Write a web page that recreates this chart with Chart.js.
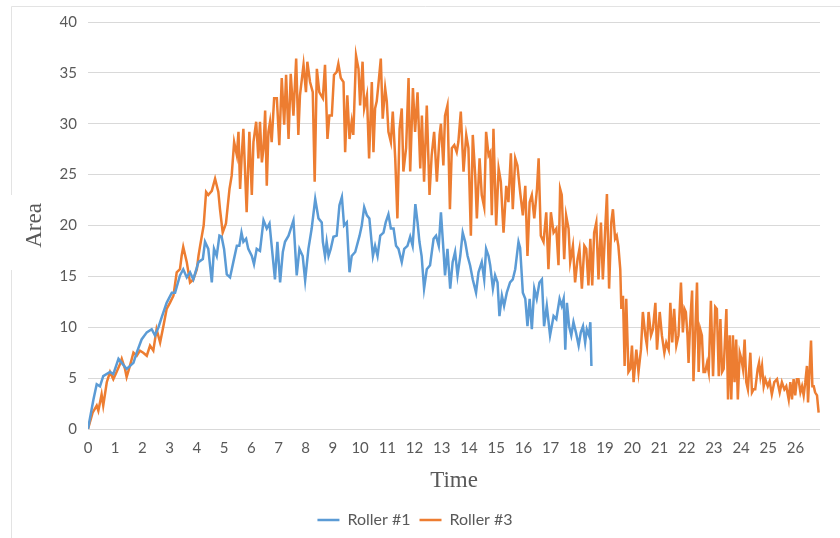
<!DOCTYPE html>
<html>
<head>
<meta charset="utf-8">
<script src="https://cdn.jsdelivr.net/npm/chart.js@4/dist/chart.umd.min.js"></script>
<style>
  html, body { margin: 0; padding: 0; background: #fff; }
  #wrap { width: 840px; height: 538px; position: relative; }
</style>
</head>
<body>
<div id="wrap"><canvas id="chart"></canvas></div>
<script>
// Roller #1 (blue) – time / area
const roller1Time = [
  0, 0.20, 0.32, 0.44, 0.56, 0.81, 0.93, 1.12, 1.24, 1.42, 1.67, 1.79, 1.97, 2.16, 2.34, 2.46, 2.59, 2.71, 2.89, 3.08,
  3.20, 3.38, 3.50, 3.63, 3.75, 3.87, 4.06, 4.22, 4.30, 4.42, 4.55, 4.63, 4.73, 4.83, 4.91, 5.00, 5.10, 5.22, 5.34, 5.47,
  5.56, 5.64, 5.71, 5.81, 5.89, 6.02, 6.10, 6.20, 6.32, 6.45, 6.57, 6.67, 6.75, 6.87, 6.96, 7.06, 7.16, 7.24, 7.37, 7.55,
  7.67, 7.77, 7.89, 7.98, 8.10, 8.22, 8.35, 8.47, 8.59, 8.63, 8.71, 8.77, 8.84, 8.92, 9.02, 9.14, 9.24, 9.33, 9.41, 9.51,
  9.61, 9.69, 9.82, 9.98, 10.06, 10.15, 10.25, 10.34, 10.47, 10.55, 10.64, 10.74, 10.86, 10.94, 11.04, 11.13, 11.23, 11.32, 11.41, 11.53,
  11.62, 11.74, 11.84, 11.93, 12.03, 12.11, 12.18, 12.26, 12.35, 12.45, 12.57, 12.70, 12.79, 12.89, 12.97, 13.06, 13.12, 13.21, 13.31, 13.40,
  13.49, 13.58, 13.68, 13.77, 13.86, 13.95, 14.04, 14.14, 14.26, 14.35, 14.47, 14.56, 14.63, 14.72, 14.78, 14.88, 14.96, 15.05, 15.12, 15.21,
  15.29, 15.39, 15.51, 15.61, 15.70, 15.82, 15.88, 15.98, 16.07, 16.15, 16.23, 16.31, 16.40, 16.49, 16.59, 16.68, 16.76, 16.86, 16.98, 17.11,
  17.21, 17.33, 17.41, 17.48, 17.54, 17.60, 17.68, 17.76, 17.84, 17.93, 18.03, 18.11, 18.19, 18.27, 18.33, 18.41, 18.46, 18.50
];
const roller1Area = [
  0, 2.9, 4.4, 4.2, 5.2, 5.6, 5.4, 6.9, 6.5, 5.9, 6.5, 7.5, 8.8, 9.5, 9.8, 9.2, 10.0, 11.0, 12.4, 13.4,
  13.4, 15.1, 15.7, 14.9, 15.4, 14.7, 16.4, 16.7, 18.4, 17.7, 14.4, 17.7, 17.0, 19.0, 18.9, 17.7, 15.2, 14.9, 16.4, 18.0,
  18.0, 19.3, 18.4, 18.7, 17.7, 17.0, 16.2, 17.7, 17.5, 20.5, 19.7, 20.2, 18.0, 14.7, 18.4, 14.4, 17.4, 18.4, 19.0, 20.5,
  15.1, 17.7, 17.0, 14.6, 17.7, 19.7, 22.6, 20.7, 20.3, 18.4, 17.0, 18.4, 17.0, 17.7, 18.9, 19.0, 22.0, 22.8, 20.0, 20.3,
  15.4, 17.0, 17.4, 19.0, 20.0, 21.8, 21.0, 20.7, 17.0, 18.0, 17.0, 19.0, 19.3, 20.3, 21.1, 19.7, 19.7, 18.0, 17.7, 16.4,
  17.7, 18.0, 18.9, 18.0, 22.1, 20.3, 18.4, 17.0, 13.8, 15.7, 16.1, 18.7, 19.0, 18.0, 21.3, 17.7, 15.1, 17.7, 13.8, 16.4,
  17.4, 15.1, 17.0, 19.3, 18.4, 17.0, 16.1, 14.7, 13.4, 15.4, 16.4, 14.7, 17.7, 17.0, 16.1, 13.8, 15.1, 14.4, 11.1, 13.1,
  12.1, 13.4, 14.4, 14.7, 15.7, 18.4, 17.8, 13.4, 12.8, 10.1, 12.8, 9.8, 13.8, 12.8, 14.4, 14.7, 10.1, 12.1, 9.2, 11.1,
  10.8, 12.8, 12.1, 12.8, 7.8, 12.4, 10.1, 9.2, 10.5, 9.5, 8.2, 9.5, 10.1, 8.5, 9.8, 9.2, 10.5, 6.2
];

// Roller #3 (orange)
const roller3Time = [
  0, 0.17, 0.32, 0.38, 0.50, 0.56, 0.69, 0.81, 0.93, 1.05, 1.18, 1.24, 1.36, 1.42, 1.54, 1.67, 1.79, 1.91, 2.03, 2.16,
  2.28, 2.40, 2.52, 2.65, 2.77, 2.89, 3.01, 3.14, 3.26, 3.38, 3.44, 3.50, 3.63, 3.75, 3.87, 4.00, 4.06, 4.12, 4.25, 4.34,
  4.42, 4.55, 4.67, 4.79, 4.85, 4.95, 5.07, 5.20, 5.28, 5.37, 5.47, 5.53, 5.59, 5.65, 5.71, 5.83, 5.93, 6.02, 6.08, 6.18,
  6.26, 6.32, 6.39, 6.45, 6.51, 6.57, 6.63, 6.69, 6.75, 6.84, 6.94, 7.03, 7.12, 7.21, 7.28, 7.37, 7.45, 7.55, 7.65, 7.73,
  7.79, 7.92, 8.01, 8.06, 8.16, 8.26, 8.33, 8.41, 8.50, 8.63, 8.71, 8.80, 8.87, 8.96, 9.04, 9.14, 9.20, 9.29, 9.39, 9.45,
  9.53, 9.61, 9.69, 9.75, 9.85, 9.94, 10.00, 10.09, 10.15, 10.25, 10.33, 10.43, 10.49, 10.55, 10.61, 10.67, 10.76, 10.83, 10.92, 10.98,
  11.04, 11.13, 11.20, 11.29, 11.37, 11.45, 11.53, 11.59, 11.69, 11.78, 11.84, 11.94, 12.02, 12.11, 12.21, 12.27, 12.35, 12.45, 12.55, 12.63,
  12.72, 12.82, 12.92, 12.97, 13.06, 13.12, 13.21, 13.30, 13.37, 13.46, 13.55, 13.61, 13.70, 13.80, 13.90, 13.98, 14.07, 14.14, 14.23, 14.29,
  14.39, 14.47, 14.56, 14.63, 14.72, 14.78, 14.84, 14.90, 15.00, 15.09, 15.17, 15.27, 15.37, 15.45, 15.54, 15.61, 15.70, 15.78, 15.88, 15.98,
  16.07, 16.15, 16.23, 16.31, 16.40, 16.50, 16.56, 16.64, 16.74, 16.84, 16.92, 17.01, 17.11, 17.21, 17.29, 17.35, 17.41, 17.50, 17.57, 17.66,
  17.72, 17.82, 17.90, 17.99, 18.06, 18.15, 18.24, 18.31, 18.39, 18.46, 18.53, 18.60, 18.68, 18.76, 18.85, 18.92, 19.00, 19.07, 19.15, 19.23,
  19.29, 19.37, 19.43, 19.49, 19.56, 19.60, 19.66, 19.72, 19.78, 19.86, 19.93, 19.99, 20.05, 20.15, 20.23, 20.32, 20.39, 20.48, 20.54, 20.60,
  20.69, 20.76, 20.85, 20.91, 21.01, 21.09, 21.18, 21.25, 21.34, 21.40, 21.47, 21.54, 21.62, 21.70, 21.79, 21.86, 21.92, 21.97, 22.03, 22.07,
  22.13, 22.20, 22.25, 22.32, 22.38, 22.44, 22.50, 22.56, 22.62, 22.68, 22.75, 22.81, 22.89, 22.97, 23.05, 23.11, 23.18, 23.24, 23.30, 23.36,
  23.46, 23.52, 23.58, 23.64, 23.70, 23.76, 23.82, 23.88, 23.95, 24.01, 24.07, 24.13, 24.19, 24.25, 24.34, 24.40, 24.46, 24.52, 24.61, 24.66,
  24.71, 24.77, 24.83, 24.89, 24.98, 25.05, 25.13, 25.22, 25.32, 25.42, 25.50, 25.59, 25.66, 25.75, 25.81, 25.87, 25.93, 25.99, 26.05, 26.11,
  26.18, 26.24, 26.30, 26.36, 26.42, 26.46, 26.52, 26.57, 26.62, 26.67, 26.72, 26.79, 26.85
];
const roller3Area = [
  0, 1.6, 2.3, 1.8, 3.4, 2.3, 4.6, 5.6, 4.9, 5.6, 6.4, 6.9, 5.9, 5.1, 6.2, 7.5, 7.2, 7.7, 7.5, 7.2,
  8.2, 7.7, 9.8, 8.5, 10.1, 11.8, 12.4, 13.1, 15.4, 15.7, 17.0, 17.9, 16.4, 14.4, 14.7, 15.7, 17.0, 18.0, 20.0, 23.3,
  23.0, 23.4, 24.6, 23.3, 21.6, 19.3, 20.2, 23.6, 24.9, 28.2, 26.9, 29.2, 23.6, 26.9, 29.5, 21.3, 29.2, 23.0, 28.2, 30.2,
  26.6, 30.2, 26.2, 27.6, 31.3, 23.9, 29.2, 30.2, 28.2, 32.5, 32.5, 27.9, 34.5, 29.9, 34.8, 28.5, 34.9, 30.8, 36.4, 28.9,
  32.8, 35.8, 33.1, 36.1, 34.1, 33.1, 24.3, 35.4, 33.1, 32.5, 35.8, 28.5, 30.8, 30.8, 34.8, 35.1, 35.9, 34.5, 34.1, 27.2,
  32.8, 28.5, 30.2, 28.9, 36.7, 35.4, 31.8, 36.1, 31.5, 32.8, 26.6, 34.1, 27.2, 31.5, 32.2, 33.8, 36.4, 30.5, 33.5, 32.2,
  29.2, 28.2, 31.2, 26.6, 20.7, 29.5, 31.5, 25.3, 27.6, 34.5, 25.3, 33.5, 29.2, 33.1, 25.6, 30.8, 24.3, 31.8, 23.0, 26.9,
  29.2, 24.3, 28.9, 30.0, 25.9, 30.8, 31.8, 21.6, 27.6, 27.9, 27.2, 28.2, 31.2, 25.3, 28.9, 27.6, 19.0, 28.9, 24.9, 20.7,
  26.6, 23.0, 21.8, 29.2, 26.9, 27.2, 21.0, 29.5, 20.0, 25.6, 24.3, 19.3, 23.9, 22.3, 27.1, 21.6, 26.6, 25.9, 23.3, 21.0,
  23.9, 17.0, 22.3, 23.0, 20.7, 23.6, 26.6, 19.0, 18.4, 21.3, 15.7, 21.3, 19.3, 19.7, 16.1, 23.6, 23.0, 16.7, 21.0, 19.7,
  16.4, 18.0, 14.4, 16.7, 17.7, 13.8, 18.0, 17.7, 14.1, 18.7, 14.1, 19.3, 20.3, 14.7, 20.3, 14.7, 19.3, 23.1, 13.8, 20.3,
  21.6, 18.7, 19.0, 18.0, 15.7, 11.8, 13.1, 6.2, 12.8, 5.6, 5.9, 8.2, 4.6, 7.8, 5.6, 7.8, 11.5, 9.2, 8.2, 11.5,
  9.2, 9.8, 12.4, 7.8, 11.5, 9.2, 7.5, 8.5, 7.8, 12.4, 8.5, 11.8, 8.2, 9.2, 14.4, 9.5, 11.8, 11.5, 9.2, 6.5,
  10.5, 13.6, 4.7, 9.8, 14.4, 5.6, 9.8, 9.2, 5.6, 5.6, 6.5, 5.6, 12.6, 5.2, 12.0, 11.8, 5.2, 10.8, 5.6, 5.9,
  11.8, 2.9, 9.2, 2.9, 9.2, 4.6, 8.8, 2.9, 7.5, 6.9, 5.9, 8.8, 4.6, 3.9, 7.5, 3.6, 3.9, 3.9, 5.9, 6.5,
  5.2, 6.2, 4.2, 4.9, 4.2, 4.7, 3.4, 4.6, 4.9, 3.6, 4.6, 3.9, 4.2, 2.9, 4.6, 2.9, 4.9, 3.3, 4.9, 4.9,
  3.6, 4.2, 3.3, 4.6, 6.2, 2.6, 5.9, 8.7, 4.2, 4.2, 3.6, 3.3, 1.6
];

const xTicks = Array.from({ length: 27 }, (_, i) => i); // 0..26

const BLUE = '#5B9BD5';
const ORANGE = '#ED7D31';
const GRID = '#d9d9d9';
const TEXT = '#595959';
const SERIF = '"Liberation Serif", "Times New Roman", serif';
const SANS = 'Lato, "Open Sans", sans-serif';

const toPts = (ts, vs) => ts.map((t, i) => ({ x: t, y: vs[i] }));

// faint frame round the picture, broken where the "Area" label sits
const framePlugin = {
  id: 'frame',
  beforeDraw(chart) {
    const { ctx, width, height } = chart;
    ctx.save();
    ctx.strokeStyle = '#e3e3e3';
    ctx.lineWidth = 1;
    ctx.beginPath();
    ctx.moveTo(width, 6.5);
    ctx.lineTo(11.5, 6.5);
    ctx.lineTo(11.5, 195);
    ctx.moveTo(11.5, 270);
    ctx.lineTo(11.5, height);
    ctx.stroke();
    ctx.restore();
  },
};

new Chart(document.getElementById('chart'), {
  type: 'line',
  data: {
    datasets: [
      { label: 'Roller #1', data: toPts(roller1Time, roller1Area), borderColor: BLUE, backgroundColor: BLUE, borderWidth: 2.5, pointRadius: 0, tension: 0 },
      { label: 'Roller #3', data: toPts(roller3Time, roller3Area), borderColor: ORANGE, backgroundColor: ORANGE, borderWidth: 2.5, pointRadius: 0, tension: 0 },
    ],
  },
  options: {
    responsive: true, maintainAspectRatio: false,
    animation: false,
    parsing: false,
    layout: { padding: { left: 10, right: 20, top: 22, bottom: 0 } },
    plugins: {
      legend: {
        position: 'bottom',
        labels: { usePointStyle: true, pointStyle: 'line', pointStyleWidth: 22, padding: 9, color: TEXT, font: { family: SANS, size: 16 } },
      },
      tooltip: { enabled: false },
    },
    scales: {
      x: {
        type: 'linear', min: 0, max: 26.9,
        afterBuildTicks: (s) => { s.ticks = xTicks.map((v) => ({ value: v })); },
        afterFit: (s) => { s.height = 74; },
        grid: { display: false, drawTicks: false },
        border: { display: false },
        ticks: { color: TEXT, font: { family: SANS, size: 15 }, padding: 10, maxRotation: 0, autoSkip: false },
        title: { display: true, text: 'Time', color: TEXT, font: { family: SERIF, size: 23 }, padding: { top: 0, bottom: 8 } },
      },
      y: {
        min: 0, max: 40,
        afterFit: (s) => { s.width = 78; },
        grid: { color: GRID, drawTicks: false },
        border: { display: false },
        ticks: { stepSize: 5, color: TEXT, font: { family: SANS, size: 15 }, padding: 11 },
        title: { display: true, text: 'Area', color: TEXT, font: { family: SERIF, size: 23 }, padding: { top: 11, bottom: 0 } },
      },
    },
  },
  plugins: [framePlugin],
});
</script>
</body>
</html>
